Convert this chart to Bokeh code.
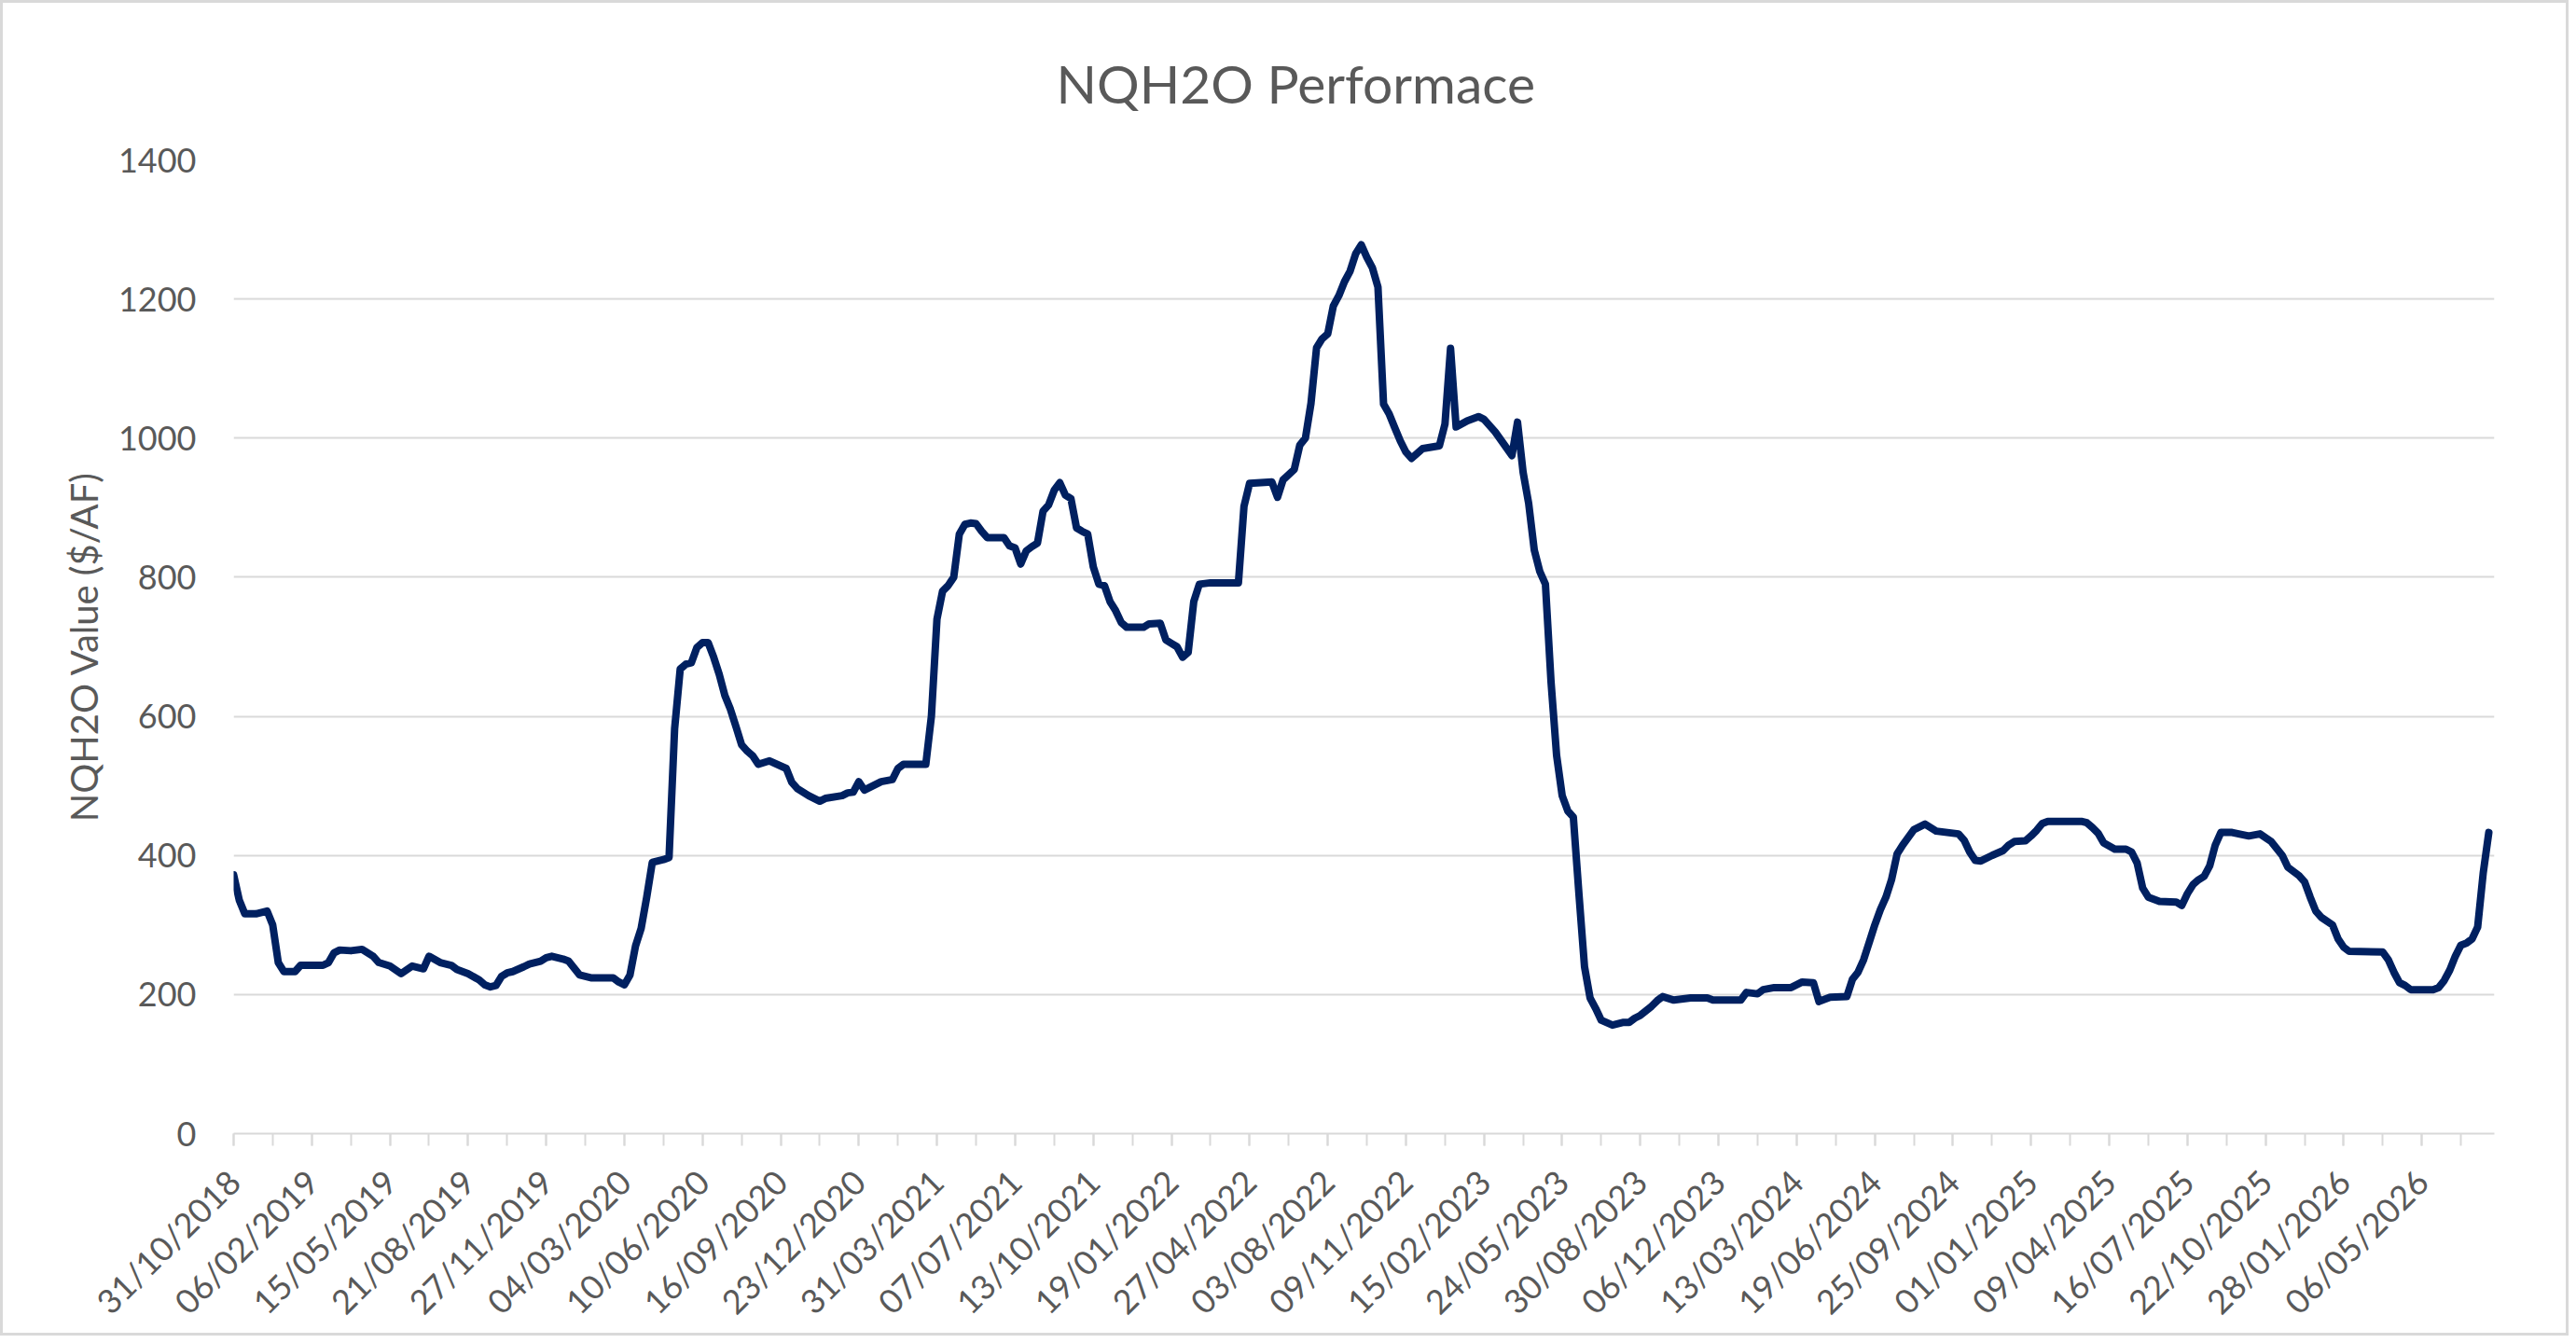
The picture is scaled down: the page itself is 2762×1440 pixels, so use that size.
import math
from bokeh.plotting import figure
from bokeh.models import Range1d, FixedTicker, ColumnDataSource
from bokeh.embed import file_html
from bokeh.resources import INLINE

# weekly observations, week 0 = 31/10/2018 (only the turning points are kept)
weeks = [
    0, 1, 2, 4, 6, 7, 8, 9, 11, 12, 16, 17, 18, 19, 21, 23, 25, 26, 28, 30,
    32, 34, 35, 37, 39, 40, 42, 44, 45, 46, 47, 48, 49, 50, 52, 53, 55, 56, 57, 59,
    60, 62, 64, 68, 69, 70, 71, 72, 73, 74, 75, 77, 78, 79, 80, 81, 82, 83, 84, 85,
    86, 87, 88, 89, 90, 91, 92, 93, 94, 96, 99, 100, 101, 103, 105, 106, 109, 110, 111, 112,
    113, 115, 116, 118, 119, 120, 124, 125, 126, 127, 128, 129, 130, 131, 132, 133, 134, 135, 138, 139,
    140, 141, 142, 143, 144, 145, 146, 147, 148, 149, 150, 151, 152, 153, 154, 155, 156, 157, 158, 159,
    160, 163, 164, 166, 167, 168, 169, 170, 171, 172, 173, 175, 180, 181, 182, 186, 187, 188, 190, 191,
    192, 193, 194, 195, 196, 197, 198, 199, 200, 201, 202, 203, 204, 205, 206, 207, 208, 209, 210, 211,
    213, 216, 217, 218, 219, 221, 223, 224, 226, 229, 230, 231, 232, 233, 234, 235, 236, 237, 238, 239,
    240, 241, 242, 243, 244, 245, 247, 249, 250, 251, 252, 254, 255, 256, 258, 261, 264, 265, 270, 271,
    273, 274, 276, 279, 281, 283, 284, 286, 289, 290, 291, 292, 293, 294, 295, 296, 297, 298, 299, 300,
    301, 303, 305, 307, 309, 310, 311, 312, 313, 315, 317, 318, 319, 321, 322, 323, 324, 325, 331, 332,
    333, 334, 335, 337, 339, 340, 341, 342, 343, 345, 348, 349, 350, 351, 352, 353, 354, 355, 356, 358,
    361, 363, 365, 366, 367, 368, 370, 371, 372, 373, 374, 376, 377, 378, 379, 385, 386, 387, 388, 389,
    390, 394, 395, 396, 397, 398, 399, 400, 401, 402, 403, 404,
]
values = [
    372, 336, 316, 316, 320, 300, 246, 233, 233, 242, 242, 246, 260, 264, 263, 265, 255, 246, 241, 230,
    241, 237, 255, 246, 242, 236, 230, 221, 214, 211, 213, 226, 231, 233, 240, 244, 248, 253, 255, 251,
    248, 228, 224, 224, 218, 214, 228, 270, 295, 340, 390, 394, 397, 582, 668, 675, 677, 699, 706, 706,
    685, 660, 630, 610, 585, 559, 550, 543, 531, 536, 525, 505, 496, 486, 478, 482, 486, 490, 491, 506,
    494, 502, 506, 509, 525, 531, 531, 600, 740, 780, 788, 800, 862, 876, 878, 877, 866, 857, 857, 845,
    842, 819, 838, 844, 849, 895, 904, 925, 936, 918, 913, 871, 866, 862, 815, 790, 788, 765, 752, 735,
    728, 728, 733, 734, 710, 705, 700, 685, 692, 765, 790, 792, 792, 902, 935, 937, 915, 940, 955, 990,
    1000, 1050, 1130, 1143, 1150, 1190, 1205, 1225, 1240, 1265, 1278, 1260, 1245, 1217, 1049, 1035, 1015, 996, 980, 971,
    985, 989, 1020, 1129, 1016, 1025, 1031, 1027, 1009, 975, 1023, 951, 906, 839, 808, 790, 650, 544, 486, 464,
    455, 345, 240, 195, 180, 163, 156, 160, 160, 166, 170, 183, 191, 197, 192, 195, 195, 192, 192, 203,
    201, 207, 210, 210, 218, 217, 190, 196, 197, 222, 232, 250, 275, 300, 322, 340, 365, 402, 415, 426,
    437, 445, 435, 433, 431, 422, 405, 393, 392, 400, 407, 415, 420, 421, 428, 436, 446, 449, 449, 447,
    440, 432, 418, 409, 409, 405, 389, 353, 340, 334, 333, 328, 345, 358, 365, 370, 385, 415, 433, 433,
    428, 431, 420, 410, 400, 383, 371, 362, 340, 320, 311, 300, 280, 268, 262, 261, 250, 232, 217, 213,
    207, 207, 210, 220, 235, 255, 271, 274, 280, 297, 375, 433,
]

# category labels shown every 14 weeks
tick_labels = [
    "31/10/2018", "06/02/2019", "15/05/2019", "21/08/2019", "27/11/2019",
    "04/03/2020", "10/06/2020", "16/09/2020", "23/12/2020", "31/03/2021",
    "07/07/2021", "13/10/2021", "19/01/2022", "27/04/2022", "03/08/2022",
    "09/11/2022", "15/02/2023", "24/05/2023", "30/08/2023", "06/12/2023",
    "13/03/2024", "19/06/2024", "25/09/2024", "01/01/2025", "09/04/2025",
    "16/07/2025", "22/10/2025", "28/01/2026", "06/05/2026",
]
y_ticks = [0, 200, 400, 600, 800, 1000, 1200, 1400]

TEXT = "#595959"
GRID = "#d9d9d9"
FONT = "Lato"

source = ColumnDataSource(data={"week": weeks, "value": values})

p = figure(width=2754, height=1432, x_range=Range1d(0, 405), y_range=Range1d(0, 1400),
           title="NQH2O Performace", output_backend="svg", toolbar_location=None,
           min_border_left=247, min_border_right=83, min_border_top=168, min_border_bottom=219)
p.styles = {"border": "3px solid #d9d9d9"}
p.outline_line_color = None

# title is centred on the whole chart, so it is placed from the plot's left edge
p.title.text_font = FONT
p.title.text_font_size = "57px"
p.title.text_font_style = "normal"
p.title.text_color = TEXT
p.title.align = "left"
p.title.offset = 882
p.title.standoff = 98

p.line("week", "value", source=source, line_color="#002060", line_width=8,
       line_join="round", line_cap="round")

# x axis: a tick every 7 weeks, a label every 14
xa = p.xaxis[0]
xa.ticker = FixedTicker(ticks=[i * 14 for i in range(len(tick_labels))],
                        minor_ticks=list(range(0, 405, 7)))
xa.major_label_overrides = {i * 14: lab for i, lab in enumerate(tick_labels)}
xa.major_label_orientation = math.pi / 4
xa.major_label_text_font = FONT
xa.major_label_text_font_size = "36px"
xa.major_label_text_color = TEXT
xa.major_label_standoff = 32
xa.axis_line_color = GRID
xa.axis_line_width = 2
xa.major_tick_line_color = GRID
xa.major_tick_line_width = 2
xa.major_tick_in = 0
xa.major_tick_out = 13
xa.minor_tick_line_color = GRID
xa.minor_tick_line_width = 2
xa.minor_tick_in = 0
xa.minor_tick_out = 13

ya = p.yaxis[0]
ya.ticker = FixedTicker(ticks=y_ticks)
ya.axis_line_color = None
ya.major_tick_line_color = None
ya.minor_tick_line_color = None
ya.major_label_text_font = FONT
ya.major_label_text_font_size = "36px"
ya.major_label_text_color = TEXT
ya.major_label_standoff = 34
ya.axis_label = "NQH2O Value ($/AF)"
ya.axis_label_text_font = FONT
ya.axis_label_text_font_size = "40px"
ya.axis_label_text_font_style = "normal"
ya.axis_label_text_color = TEXT
ya.axis_label_standoff = 10

p.xgrid.visible = False
p.ygrid.grid_line_color = GRID
p.ygrid.grid_line_width = 2

open("out.html", "w").write(file_html(p, INLINE))
